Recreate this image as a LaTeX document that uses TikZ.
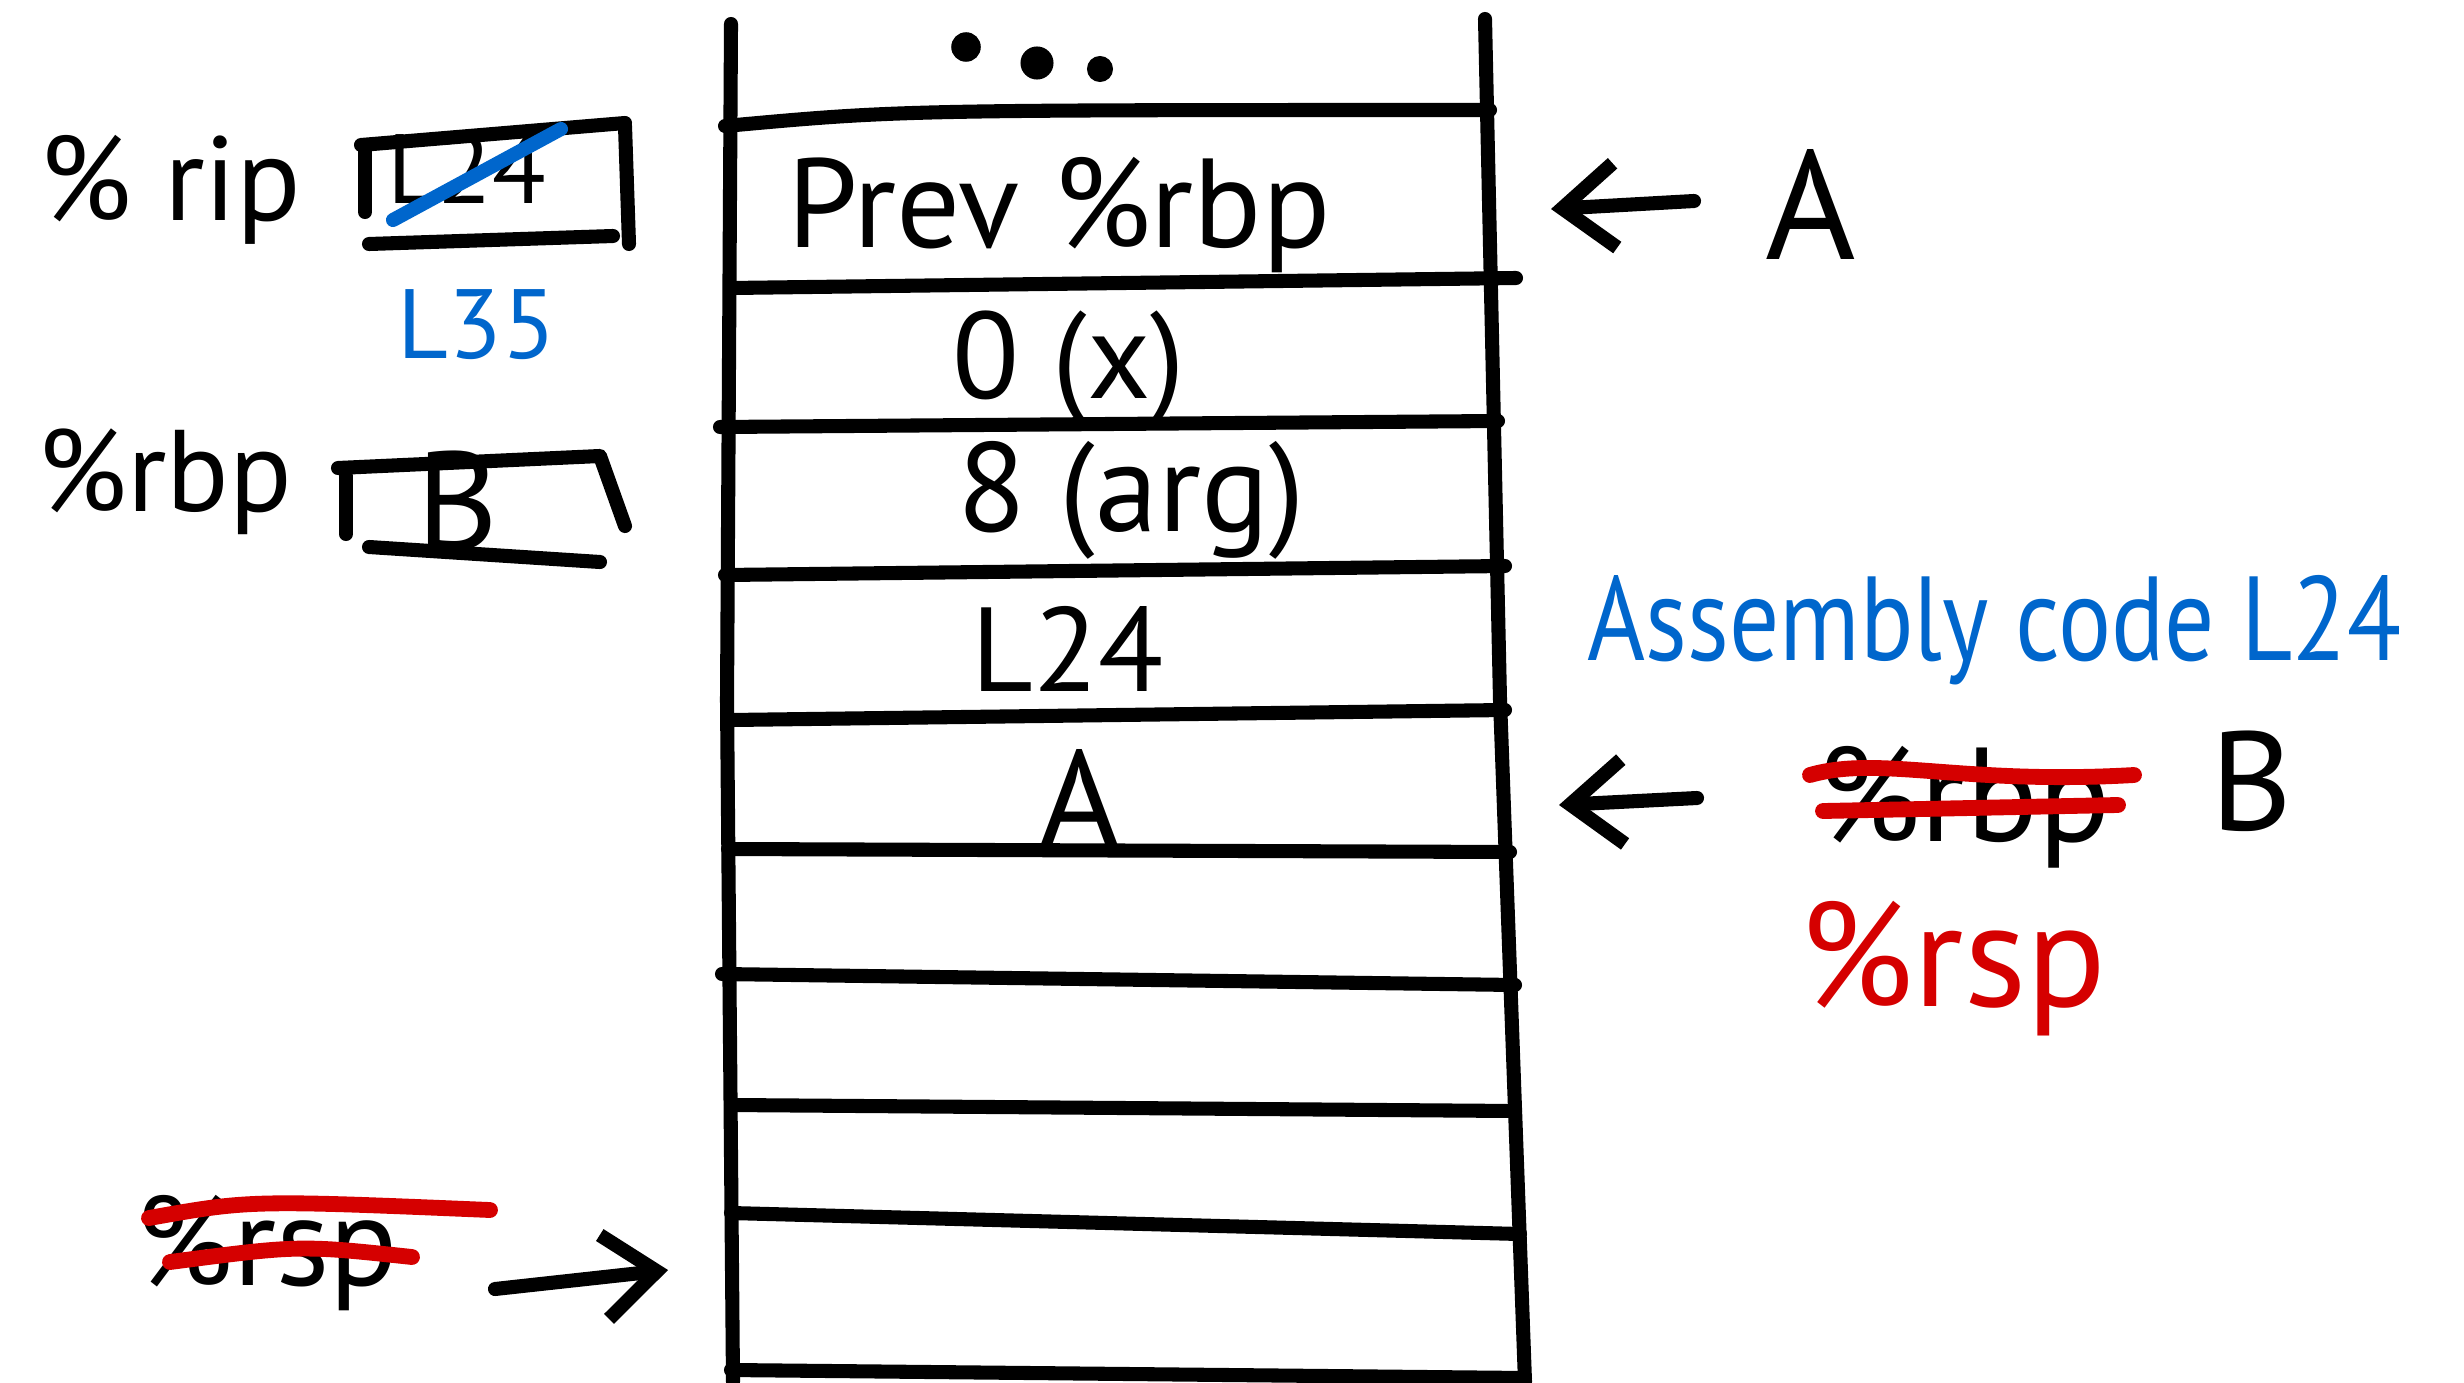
\documentclass[tikz,border=0pt]{standalone}
\usepackage{fontspec}
\setmainfont{PT Sans}
\usetikzlibrary{arrows.meta}
\definecolor{penblue}{RGB}{0,102,204}
\definecolor{penred}{RGB}{213,0,0}

\begin{document}
\begin{tikzpicture}[x=0.01cm, y=-0.01cm,
    pen/.style={line width=4pt, line cap=round, line join=round},
    hand/.style={font=\fontsize{#1}{#1}\selectfont, inner sep=0pt},
    strike/.style={penred, line width=4.5pt, line cap=round},
    barb/.style={pen, -{Straight Barb[length=15pt,width=24pt,line width=4pt]}}]

    \useasboundingbox (0,0) rectangle (2464,1382);

    % stack walls
    \draw[pen] (731,24) -- (727,700) -- (733,1382);
    \draw[pen] (1485,19) -- (1500,700) -- (1525,1382);

    % slot borders, top to bottom
    \draw[pen] (725,126) .. controls (900,110) .. (1490,110);
    \draw[pen] (731,288) -- (1516,278);
    \draw[pen] (720,427) -- (1498,421);
    \draw[pen] (725,575) -- (1505,566);
    \draw[pen] (731,720) -- (1505,710);
    \draw[pen] (728,849) -- (1510,852);
    \draw[pen] (722,974) -- (1515,985);
    \draw[pen] (731,1105) -- (1515,1111);
    \draw[pen] (731,1213) -- (1520,1234);
    \draw[pen] (731,1370) -- (1525,1378);

    % dots above the top slot
    \filldraw (966,47) circle (4pt);
    \filldraw (1037,63) circle (4.5pt);
    \filldraw (1100,69) circle (3.5pt);

    % slot contents
    \node[hand=36, anchor=base] (prevrbp) at (1059,248) {Prev \%rbp};
    \node[hand=35, anchor=base] (localx) at (1069,398) {0 (x)};
    \node[hand=36, anchor=base] (arg) at (1131,531) {8 (arg)};
    \node[hand=34, anchor=base] (ret) at (1068,691) {L24};
    \node[hand=40, anchor=base] (slotA) at (1080,849) {A};

    % registers on the left
    \node[hand=34, anchor=base west] (rip) at (39,220) {\% rip};
    \draw[pen] (361,145) -- (625,123);
    \draw[pen] (369,244) -- (613,236);
    \draw[pen] (365,149) -- (365,212);
    \draw[pen] (625,126) -- (629,244);
    \node[hand=28, anchor=base] (ripold) at (467,204) {L24};
    \draw[penblue, line width=4pt, line cap=round] (393,220) -- (561,129);
    \node[hand=28, anchor=base, text=penblue] (ripnew) at (477,358) {L35};

    \node[hand=33, anchor=base west] (rbp) at (37,511) {\%rbp};
    \draw[pen] (338,468) -- (600,456) -- (625,526);
    \draw[pen] (346,476) -- (346,534);
    \draw[pen] (369,547) -- (600,562);
    \node[hand=40, anchor=base] (rbpval) at (458,550) {B};

    % markers on the right
    \coordinate (tipA) at (1551,209);
    \coordinate (tailA) at (1694,201);
    \draw[barb] (tailA) -- (tipA);
    \node[hand=44, anchor=base] (lblA) at (1811,259) {A};

    \node[hand=34, anchor=base west, text=penblue] (asm) at (1587,660)
        {\scalebox{0.83}[1]{Assembly code L24}};

    \coordinate (tipB) at (1559,805);
    \coordinate (tailB) at (1697,798);
    \draw[barb] (tailB) -- (tipB);
    \node[hand=38, anchor=base] (oldrbp) at (1964,841) {\%rbp};
    \draw[strike] (1810,775) .. controls (1880,755) and (1960,785) .. (2134,775);
    \draw[strike] (1823,811) -- (2118,805);
    \node[hand=40, anchor=base] (lblB) at (2252,830) {B};
    \node[hand=42, anchor=base, text=penred] (newrsp) at (1953,1006) {\%rsp};

    % old stack pointer at the bottom
    \node[hand=36, anchor=base] (oldrsp) at (267,1285) {\%rsp};
    \draw[strike] (149,1218) .. controls (250,1200) .. (490,1210);
    \draw[strike] (170,1262) .. controls (300,1245) .. (412,1257);
    \coordinate (tailR) at (495,1289);
    \coordinate (tipR) at (668,1270);
    \draw[barb] (tailR) -- (tipR);
\end{tikzpicture}
\end{document}
